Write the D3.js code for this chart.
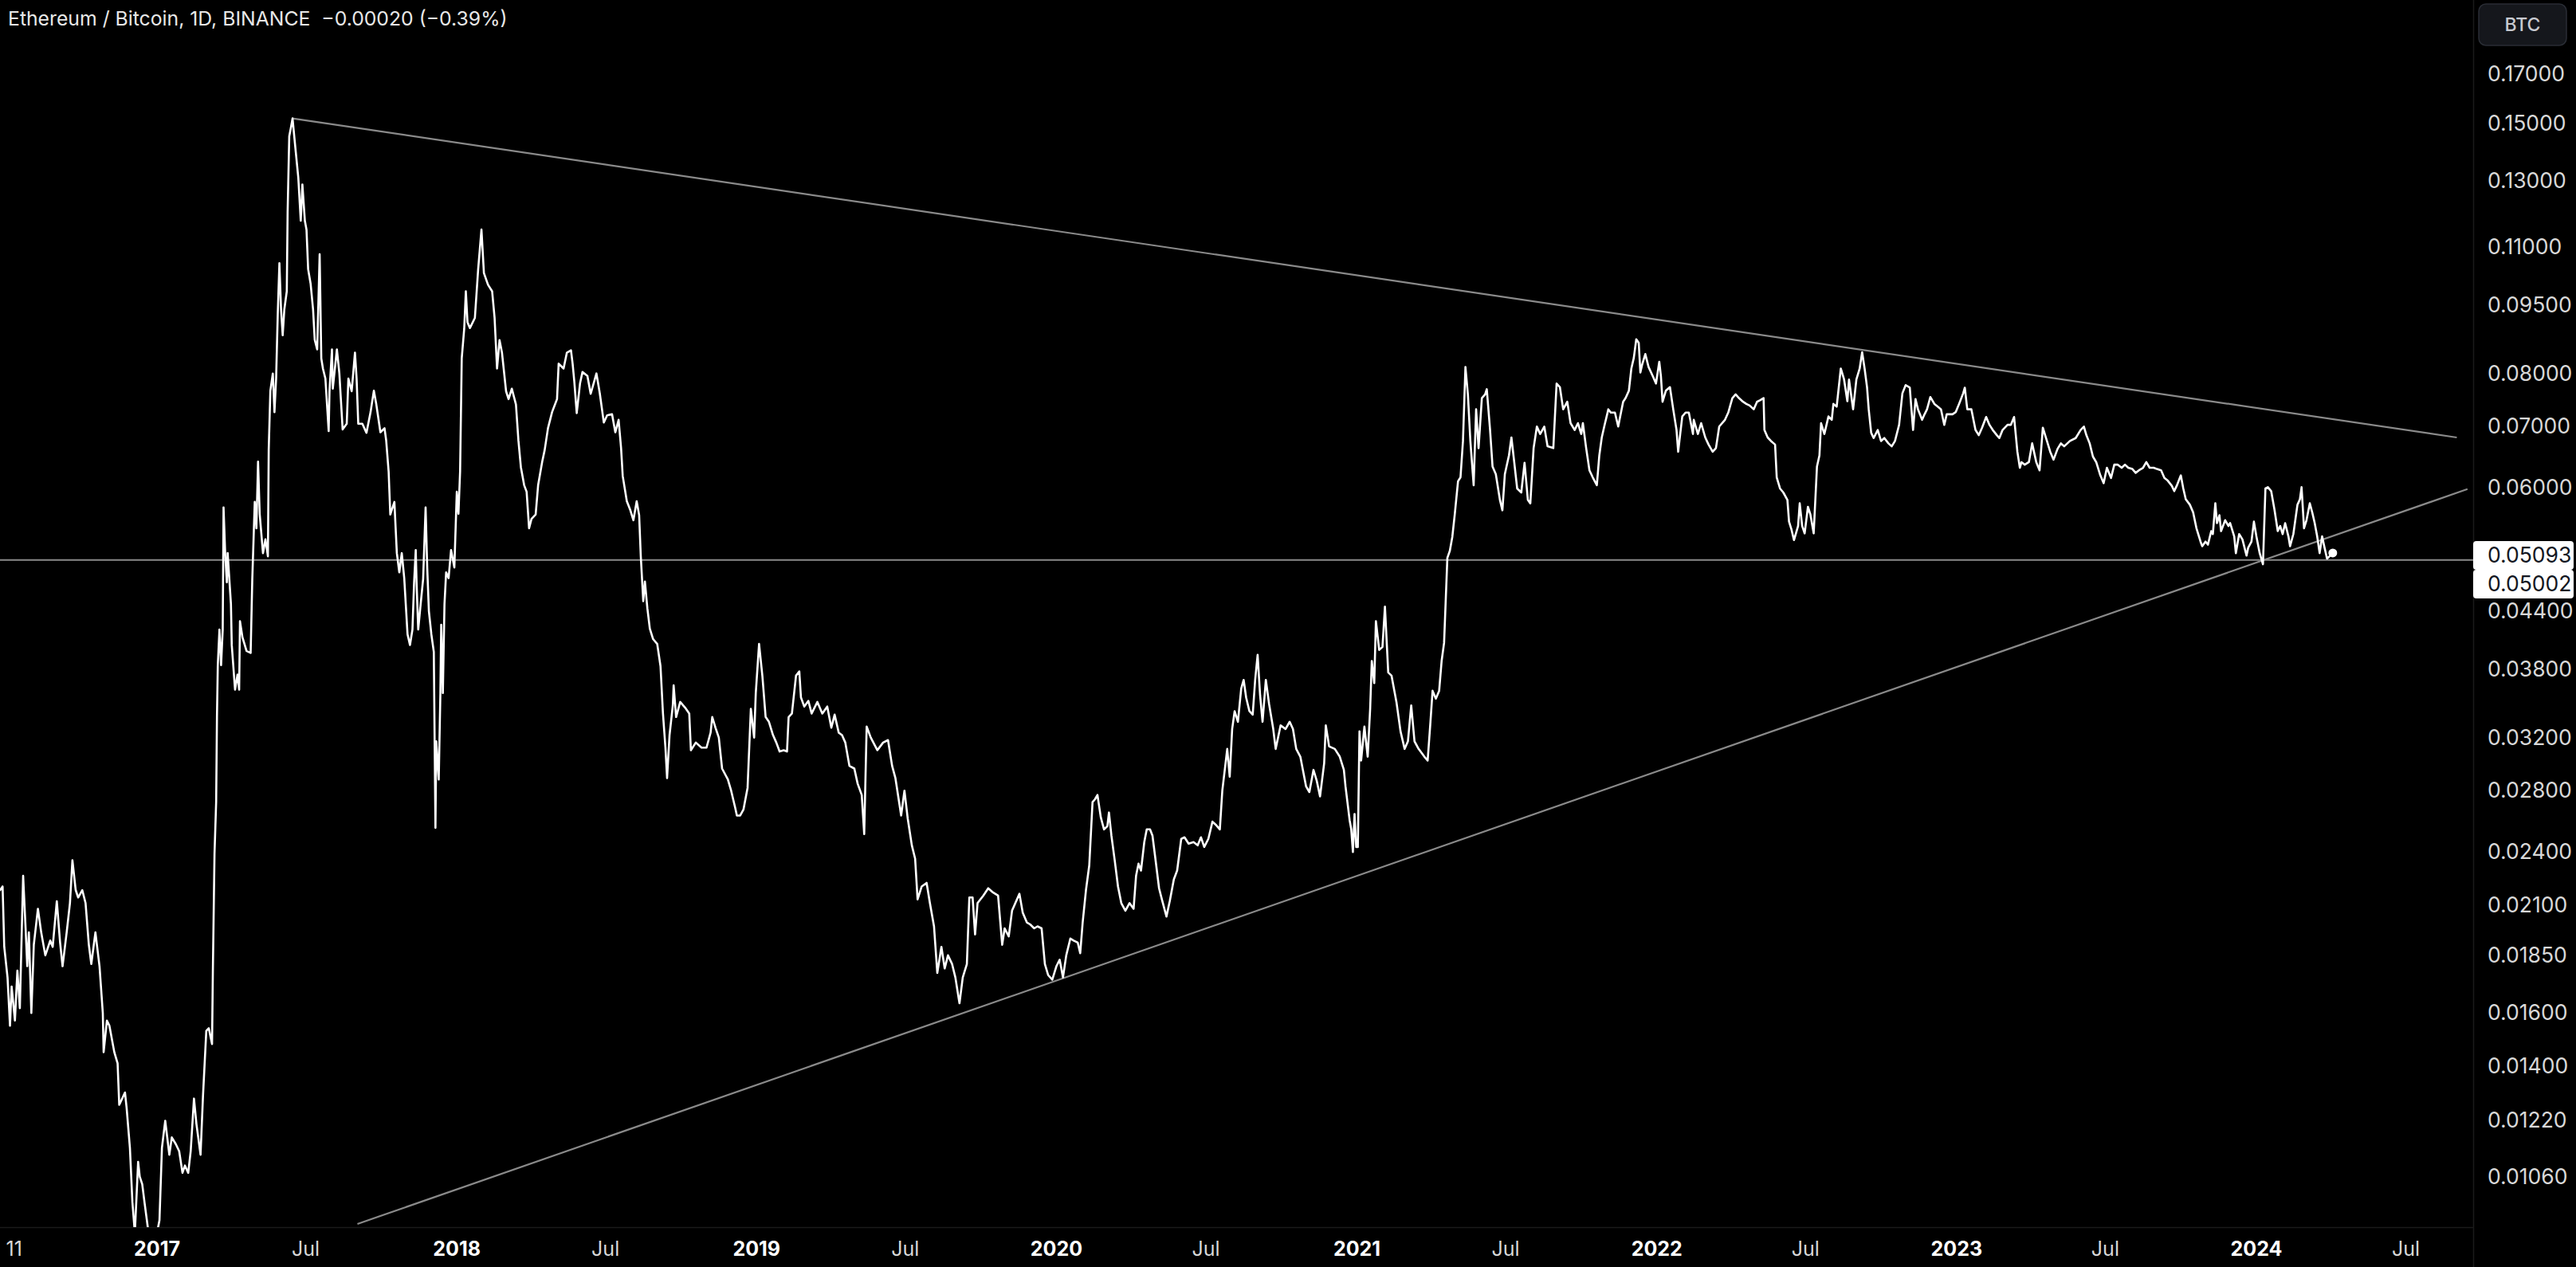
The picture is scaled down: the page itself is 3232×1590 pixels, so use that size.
<!DOCTYPE html>
<html><head><meta charset="utf-8">
<script src="https://cdn.jsdelivr.net/npm/d3@7"></script>
<style>html,body{margin:0;padding:0;background:#000;overflow:hidden}</style>
</head><body><svg id="c" width="3232" height="1590"></svg>
<script>
const title = "Ethereum / Bitcoin, 1D, BINANCE  \u22120.00020 (\u22120.39%)";
const currencyLabel = "BTC";
const series2016 = [["2016-06-24",0.0218],["2016-06-27",0.0220],["2016-06-29",0.0189],["2016-07-03",0.0175],["2016-07-06",0.0155],["2016-07-08",0.0171],["2016-07-12",0.0157],["2016-07-15",0.0178],["2016-07-18",0.0162],["2016-07-22",0.0226],["2016-07-25",0.0198],["2016-07-27",0.0180],["2016-07-29",0.0196],["2016-08-01",0.0160],["2016-08-04",0.0190],["2016-08-09",0.0208],["2016-08-13",0.0196],["2016-08-18",0.0185],["2016-08-24",0.0192],["2016-08-27",0.0189],["2016-09-01",0.0212],["2016-09-05",0.0191],["2016-09-08",0.0180],["2016-09-13",0.0196],["2016-09-17",0.0211],["2016-09-20",0.0235],["2016-09-24",0.0218],["2016-09-27",0.0214],["2016-10-02",0.0218],["2016-10-06",0.0211],["2016-10-10",0.0190],["2016-10-13",0.0181],["2016-10-18",0.0196],["2016-10-23",0.0180],["2016-10-27",0.0160],["2016-10-28",0.0145],["2016-11-01",0.0157],["2016-11-04",0.0155],["2016-11-10",0.0145],["2016-11-14",0.0141],["2016-11-16",0.0127],["2016-11-23",0.0131],["2016-11-25",0.0126],["2016-11-29",0.0114],["2016-12-02",0.00995],["2016-12-05",0.0092],["2016-12-09",0.0110],["2016-12-11",0.0106],["2016-12-14",0.0104],["2016-12-17",0.0099],["2016-12-21",0.0093],["2016-12-24",0.0089],["2016-12-28",0.0088],["2016-12-31",0.0090]];
const series2017 = [["2017-01-02",0.0093],["2017-01-04",0.0095],["2017-01-07",0.0114],["2017-01-11",0.0122],["2017-01-16",0.0112],["2017-01-19",0.0117],["2017-01-24",0.0115],["2017-01-28",0.0113],["2017-02-01",0.0107],["2017-02-04",0.0109],["2017-02-08",0.0107],["2017-02-11",0.0113],["2017-02-15",0.0129],["2017-02-18",0.0121],["2017-02-23",0.0112],["2017-02-26",0.0130],["2017-03-02",0.0153],["2017-03-05",0.0154],["2017-03-09",0.0148],["2017-03-10",0.0178],["2017-03-12",0.0239],["2017-03-14",0.0272],["2017-03-15",0.0338],["2017-03-16",0.0384],["2017-03-18",0.0420],["2017-03-20",0.0384],["2017-03-22",0.0420],["2017-03-23",0.0571],["2017-03-25",0.0509],["2017-03-27",0.0473],["2017-03-28",0.0509],["2017-04-01",0.0448],["2017-04-02",0.0404],["2017-04-06",0.0361],["2017-04-09",0.0375],["2017-04-11",0.0361],["2017-04-12",0.0429],["2017-04-15",0.0412],["2017-04-20",0.0398],["2017-04-25",0.0396],["2017-04-27",0.0477],["2017-04-30",0.0579],["2017-05-02",0.0542],["2017-05-04",0.0641],["2017-05-06",0.0562],["2017-05-10",0.0509],["2017-05-13",0.0527],["2017-05-16",0.0505],["2017-05-17",0.0660],["2017-05-19",0.0766],["2017-05-22",0.0800],["2017-05-24",0.0726],["2017-05-26",0.0790],["2017-05-28",0.0929],["2017-05-30",0.1056],["2017-06-01",0.0940],["2017-06-03",0.0881],["2017-06-05",0.0940],["2017-06-08",0.0984],["2017-06-09",0.1200],["2017-06-11",0.1453],["2017-06-13",0.1485],["2017-06-15",0.1520],["2017-06-19",0.1395],["2017-06-22",0.1310],["2017-06-25",0.1175],["2017-06-27",0.1287],["2017-06-30",0.1175],["2017-07-02",0.1149],["2017-07-04",0.1040],["2017-07-07",0.1003],["2017-07-10",0.0940],["2017-07-12",0.0871],["2017-07-15",0.0850],["2017-07-18",0.1080],["2017-07-20",0.0831],["2017-07-22",0.0810],["2017-07-25",0.0790],["2017-07-29",0.0692],["2017-07-30",0.0765],["2017-08-02",0.0850],["2017-08-03",0.0770],["2017-08-08",0.0850],["2017-08-11",0.0800],["2017-08-15",0.0695],["2017-08-20",0.0705],["2017-08-22",0.0790],["2017-08-26",0.0765],["2017-08-30",0.0843],["2017-09-01",0.0790],["2017-09-03",0.0705],["2017-09-08",0.0705],["2017-09-13",0.0689],["2017-09-18",0.0726],["2017-09-22",0.0766],["2017-09-25",0.0740],["2017-09-30",0.0690],["2017-10-05",0.0697],["2017-10-07",0.0676],["2017-10-10",0.0625],["2017-10-12",0.0561],["2017-10-17",0.0579],["2017-10-20",0.0509],["2017-10-23",0.0485],["2017-10-26",0.0509],["2017-10-29",0.0478],["2017-11-02",0.0415],["2017-11-05",0.0404],["2017-11-08",0.0420],["2017-11-10",0.0473],["2017-11-12",0.0513],["2017-11-13",0.0473],["2017-11-15",0.0420],["2017-11-18",0.0448],["2017-11-21",0.0477],["2017-11-24",0.0571],["2017-11-26",0.0490],["2017-11-28",0.0440],["2017-12-01",0.0415],["2017-12-04",0.0397],["2017-12-06",0.0255],["2017-12-07",0.0317],["2017-12-10",0.0288],["2017-12-12",0.0358],["2017-12-13",0.0425],["2017-12-15",0.0358],["2017-12-17",0.0448],["2017-12-19",0.0485],["2017-12-22",0.0478],["2017-12-25",0.0513],["2017-12-29",0.0491]];
const series2018 = [["2018-01-01",0.0594],["2018-01-03",0.0562],["2018-01-05",0.0625],["2018-01-07",0.0831],["2018-01-10",0.0895],["2018-01-12",0.0984],["2018-01-14",0.0910],["2018-01-17",0.0897],["2018-01-23",0.0920],["2018-01-27",0.1040],["2018-01-31",0.1149],["2018-02-03",0.1030],["2018-02-08",0.1000],["2018-02-13",0.0984],["2018-02-16",0.0920],["2018-02-19",0.0810],["2018-02-22",0.0870],["2018-02-25",0.0843],["2018-03-02",0.0765],["2018-03-05",0.0750],["2018-03-09",0.0770],["2018-03-14",0.0740],["2018-03-17",0.0676],["2018-03-20",0.0632],["2018-03-24",0.0604],["2018-03-27",0.0594],["2018-03-30",0.0542],["2018-04-02",0.0555],["2018-04-07",0.0561],["2018-04-10",0.0604],["2018-04-15",0.0641],["2018-04-18",0.0660],["2018-04-22",0.0697],["2018-04-27",0.0726],["2018-05-03",0.0750],["2018-05-05",0.0820],["2018-05-11",0.0810],["2018-05-15",0.0843],["2018-05-20",0.0848],["2018-05-22",0.0820],["2018-05-24",0.0785],["2018-05-27",0.0724],["2018-05-31",0.0780],["2018-06-03",0.0803],["2018-06-09",0.0795],["2018-06-13",0.0760],["2018-06-20",0.0800],["2018-06-24",0.0762],["2018-06-29",0.0707],["2018-07-03",0.0720],["2018-07-09",0.0722],["2018-07-13",0.0690],["2018-07-17",0.0712],["2018-07-20",0.0663],["2018-07-22",0.0618],["2018-07-27",0.0580],["2018-07-31",0.0568],["2018-08-04",0.0553],["2018-08-08",0.0580],["2018-08-11",0.0560],["2018-08-13",0.0505],["2018-08-16",0.0451],["2018-08-18",0.0474],["2018-08-21",0.0443],["2018-08-24",0.0421],["2018-08-28",0.0410],["2018-09-02",0.0405],["2018-09-06",0.0383],["2018-09-09",0.0340],["2018-09-12",0.0312],["2018-09-14",0.0289],["2018-09-17",0.0322],["2018-09-21",0.0347],["2018-09-22",0.0365],["2018-09-25",0.0337],["2018-09-30",0.0350],["2018-10-06",0.0345],["2018-10-11",0.0340],["2018-10-13",0.0310],["2018-10-19",0.0316],["2018-10-26",0.0312],["2018-11-01",0.0312],["2018-11-06",0.0324],["2018-11-08",0.0337],["2018-11-12",0.0328],["2018-11-16",0.0320],["2018-11-20",0.0296],["2018-11-27",0.0288],["2018-12-01",0.0280],["2018-12-06",0.0268],["2018-12-08",0.0263],["2018-12-12",0.0263],["2018-12-16",0.0267],["2018-12-21",0.0282],["2018-12-25",0.0344],["2018-12-29",0.0320],["2018-12-31",0.0358]];
const series2019 = [["2019-01-04",0.0405],["2019-01-08",0.0374],["2019-01-12",0.0337],["2019-01-16",0.0333],["2019-01-21",0.0322],["2019-01-25",0.0316],["2019-01-29",0.0309],["2019-02-03",0.0310],["2019-02-07",0.0309],["2019-02-09",0.0337],["2019-02-13",0.0340],["2019-02-18",0.0374],["2019-02-22",0.0378],["2019-02-24",0.0354],["2019-02-28",0.0346],["2019-03-05",0.0351],["2019-03-09",0.0340],["2019-03-16",0.0350],["2019-03-22",0.0340],["2019-03-28",0.0346],["2019-04-02",0.0328],["2019-04-06",0.0339],["2019-04-11",0.0324],["2019-04-15",0.0322],["2019-04-19",0.0316],["2019-04-24",0.0298],["2019-04-30",0.0296],["2019-05-04",0.0285],["2019-05-09",0.0277],["2019-05-12",0.0251],["2019-05-15",0.0329],["2019-05-20",0.0320],["2019-05-28",0.0310],["2019-06-04",0.0316],["2019-06-10",0.0318],["2019-06-15",0.0298],["2019-06-19",0.0289],["2019-06-26",0.0263],["2019-06-30",0.0280],["2019-07-04",0.0261],["2019-07-09",0.0244],["2019-07-13",0.0236],["2019-07-16",0.0213],["2019-07-21",0.0220],["2019-07-27",0.0222],["2019-07-31",0.0211],["2019-08-05",0.0199],["2019-08-09",0.0177],["2019-08-14",0.0189],["2019-08-18",0.0179],["2019-08-22",0.0185],["2019-08-27",0.0181],["2019-08-31",0.0175],["2019-09-05",0.0164],["2019-09-09",0.0175],["2019-09-14",0.0181],["2019-09-17",0.0214],["2019-09-21",0.0214],["2019-09-24",0.0195],["2019-09-27",0.0211],["2019-10-04",0.0215],["2019-10-10",0.0219],["2019-10-15",0.0217],["2019-10-22",0.0215],["2019-10-27",0.0190],["2019-10-30",0.0198],["2019-11-04",0.0194],["2019-11-08",0.0207],["2019-11-13",0.0212],["2019-11-17",0.0216],["2019-11-21",0.0206],["2019-11-26",0.0201],["2019-11-30",0.0200],["2019-12-05",0.0198],["2019-12-09",0.0199],["2019-12-14",0.0198],["2019-12-18",0.0181],["2019-12-22",0.0176],["2019-12-27",0.0174]];
const series2020 = [["2020-01-01",0.0180],["2020-01-05",0.0183],["2020-01-09",0.0175],["2020-01-13",0.0185],["2020-01-18",0.0193],["2020-01-22",0.0192],["2020-01-27",0.0191],["2020-01-30",0.0186],["2020-02-02",0.0201],["2020-02-06",0.0218],["2020-02-10",0.0232],["2020-02-14",0.0272],["2020-02-17",0.0274],["2020-02-20",0.0277],["2020-02-24",0.0262],["2020-02-28",0.0254],["2020-03-03",0.0256],["2020-03-05",0.0265],["2020-03-08",0.0250],["2020-03-12",0.0235],["2020-03-16",0.0220],["2020-03-20",0.0211],["2020-03-25",0.0207],["2020-03-30",0.0211],["2020-04-04",0.0208],["2020-04-07",0.0226],["2020-04-10",0.0233],["2020-04-13",0.0229],["2020-04-17",0.0246],["2020-04-20",0.0254],["2020-04-24",0.0254],["2020-04-27",0.0250],["2020-04-30",0.0238],["2020-05-05",0.0219],["2020-05-09",0.0212],["2020-05-14",0.0204],["2020-05-18",0.0212],["2020-05-23",0.0224],["2020-05-27",0.0229],["2020-06-01",0.0248],["2020-06-05",0.0249],["2020-06-10",0.0245],["2020-06-16",0.0246],["2020-06-21",0.0244],["2020-06-25",0.0249],["2020-06-29",0.0243],["2020-07-04",0.0248],["2020-07-09",0.0259],["2020-07-13",0.0257],["2020-07-18",0.0254],["2020-07-21",0.0280],["2020-07-24",0.0295],["2020-07-27",0.0311],["2020-07-30",0.0290],["2020-08-02",0.0327],["2020-08-05",0.0342],["2020-08-09",0.0333],["2020-08-13",0.0362],["2020-08-16",0.0370],["2020-08-19",0.0354],["2020-08-23",0.0342],["2020-08-27",0.0339],["2020-08-30",0.0370],["2020-09-02",0.0394],["2020-09-05",0.0356],["2020-09-08",0.0333],["2020-09-12",0.0370],["2020-09-16",0.0348],["2020-09-21",0.0327],["2020-09-24",0.0311],["2020-09-30",0.0330],["2020-10-06",0.0327],["2020-10-11",0.0333],["2020-10-15",0.0327],["2020-10-19",0.0311],["2020-10-24",0.0305],["2020-10-31",0.0283],["2020-11-04",0.0279],["2020-11-09",0.0295],["2020-11-13",0.0287],["2020-11-17",0.0276],["2020-11-22",0.0300],["2020-11-24",0.0330],["2020-11-28",0.0313],["2020-12-05",0.0311],["2020-12-11",0.0305],["2020-12-16",0.0295],["2020-12-18",0.0283],["2020-12-23",0.0260],["2020-12-25",0.0254],["2020-12-27",0.0240],["2020-12-29",0.0264],["2020-12-31",0.0243]];
const series2021 = [["2021-01-02",0.0243],["2021-01-04",0.0325],["2021-01-06",0.0302],["2021-01-10",0.0329],["2021-01-14",0.0305],["2021-01-17",0.0344],["2021-01-19",0.0388],["2021-01-22",0.0367],["2021-01-24",0.0429],["2021-01-28",0.0399],["2021-02-01",0.0402],["2021-02-04",0.0445],["2021-02-08",0.0377],["2021-02-12",0.0374],["2021-02-18",0.0350],["2021-02-23",0.0325],["2021-02-28",0.0311],["2021-03-04",0.0317],["2021-03-08",0.0347],["2021-03-12",0.0317],["2021-03-17",0.0311],["2021-03-24",0.0305],["2021-03-28",0.0302],["2021-03-31",0.0329],["2021-04-03",0.0360],["2021-04-07",0.0353],["2021-04-11",0.0360],["2021-04-14",0.0388],["2021-04-17",0.0406],["2021-04-21",0.0503],["2021-04-24",0.0512],["2021-04-27",0.0530],["2021-04-30",0.0561],["2021-05-04",0.0610],["2021-05-07",0.0616],["2021-05-10",0.0675],["2021-05-13",0.0813],["2021-05-16",0.0759],["2021-05-19",0.0675],["2021-05-23",0.0604],["2021-05-26",0.0731],["2021-05-29",0.0663],["2021-06-02",0.0752],["2021-06-06",0.0759],["2021-06-08",0.0769],["2021-06-12",0.0694],["2021-06-15",0.0633],["2021-06-19",0.0621],["2021-06-24",0.0582],["2021-06-27",0.0567],["2021-06-30",0.0621],["2021-07-05",0.0651],["2021-07-08",0.0681],["2021-07-11",0.0645],["2021-07-15",0.0599],["2021-07-20",0.0593],["2021-07-24",0.0639],["2021-07-28",0.0582],["2021-07-31",0.0577],["2021-08-04",0.0663],["2021-08-08",0.0700],["2021-08-12",0.0687],["2021-08-17",0.0700],["2021-08-21",0.0666],["2021-08-28",0.0663],["2021-09-01",0.0780],["2021-09-05",0.0773],["2021-09-09",0.0731],["2021-09-14",0.0745],["2021-09-18",0.0706],["2021-09-23",0.0694],["2021-09-27",0.0706],["2021-10-01",0.0687],["2021-10-03",0.0706],["2021-10-07",0.0663],["2021-10-11",0.0627],["2021-10-15",0.0616],["2021-10-20",0.0604],["2021-10-23",0.0651],["2021-10-26",0.0681],["2021-10-29",0.0700],["2021-11-03",0.0731],["2021-11-06",0.0725],["2021-11-11",0.0725],["2021-11-15",0.0700],["2021-11-21",0.0745],["2021-11-24",0.0752],["2021-11-28",0.0766],["2021-12-01",0.0810],["2021-12-04",0.0832],["2021-12-07",0.0872],["2021-12-10",0.0864],["2021-12-12",0.0802],["2021-12-14",0.0817],["2021-12-18",0.0840],["2021-12-22",0.0813],["2021-12-27",0.0795],["2021-12-31",0.0780]];
const series2022 = [["2022-01-04",0.0824],["2022-01-06",0.0795],["2022-01-08",0.0745],["2022-01-12",0.0766],["2022-01-17",0.0773],["2022-01-21",0.0731],["2022-01-25",0.0694],["2022-01-27",0.0657],["2022-02-01",0.0718],["2022-02-05",0.0725],["2022-02-09",0.0725],["2022-02-14",0.0687],["2022-02-15",0.0712],["2022-02-20",0.0687],["2022-02-24",0.0706],["2022-03-01",0.0681],["2022-03-05",0.0669],["2022-03-10",0.0657],["2022-03-14",0.0663],["2022-03-18",0.0700],["2022-03-25",0.0712],["2022-03-29",0.0725],["2022-04-03",0.0752],["2022-04-07",0.0759],["2022-04-11",0.0752],["2022-04-16",0.0745],["2022-04-20",0.0741],["2022-04-24",0.0738],["2022-04-29",0.0731],["2022-05-03",0.0745],["2022-05-07",0.0748],["2022-05-11",0.0752],["2022-05-12",0.0694],["2022-05-16",0.0681],["2022-05-20",0.0675],["2022-05-25",0.0669],["2022-05-27",0.0616],["2022-05-31",0.0599],["2022-06-04",0.0593],["2022-06-09",0.0582],["2022-06-11",0.0551],["2022-06-14",0.0540],["2022-06-17",0.0526],["2022-06-22",0.0545],["2022-06-24",0.0577],["2022-06-27",0.0545],["2022-06-30",0.0535],["2022-07-04",0.0572],["2022-07-07",0.0561],["2022-07-11",0.0535],["2022-07-15",0.0633],["2022-07-18",0.0651],["2022-07-20",0.0706],["2022-07-24",0.0687],["2022-07-29",0.0718],["2022-08-02",0.0712],["2022-08-04",0.0741],["2022-08-08",0.0736],["2022-08-13",0.0810],["2022-08-17",0.0788],["2022-08-21",0.0746],["2022-08-23",0.0788],["2022-08-28",0.0731],["2022-09-01",0.0788],["2022-09-05",0.0810],["2022-09-08",0.0844],["2022-09-11",0.0810],["2022-09-14",0.0772],["2022-09-16",0.0731],["2022-09-19",0.0689],["2022-09-22",0.0680],["2022-09-27",0.0694],["2022-10-01",0.0675],["2022-10-05",0.0680],["2022-10-10",0.0671],["2022-10-14",0.0666],["2022-10-18",0.0675],["2022-10-23",0.0703],["2022-10-27",0.0761],["2022-10-31",0.0777],["2022-11-05",0.0772],["2022-11-09",0.0694],["2022-11-12",0.0750],["2022-11-15",0.0731],["2022-11-20",0.0712],["2022-11-23",0.0722],["2022-11-26",0.0731],["2022-11-30",0.0754],["2022-12-05",0.0741],["2022-12-09",0.0736],["2022-12-13",0.0731],["2022-12-17",0.0703],["2022-12-20",0.0722],["2022-12-27",0.0722],["2022-12-31",0.0726]];
const series2023 = [["2023-01-04",0.0741],["2023-01-09",0.0761],["2023-01-11",0.0772],["2023-01-14",0.0731],["2023-01-19",0.0731],["2023-01-24",0.0694],["2023-01-28",0.0685],["2023-02-01",0.0698],["2023-02-06",0.0717],["2023-02-10",0.0703],["2023-02-14",0.0694],["2023-02-19",0.0685],["2023-02-22",0.0680],["2023-02-26",0.0694],["2023-03-04",0.0703],["2023-03-08",0.0703],["2023-03-12",0.0717],["2023-03-16",0.0657],["2023-03-19",0.0631],["2023-03-21",0.0640],["2023-03-25",0.0636],["2023-03-30",0.0640],["2023-04-03",0.0671],["2023-04-08",0.0640],["2023-04-12",0.0627],["2023-04-16",0.0698],["2023-04-21",0.0675],["2023-04-25",0.0657],["2023-04-29",0.0644],["2023-05-04",0.0662],["2023-05-08",0.0671],["2023-05-12",0.0666],["2023-05-19",0.0675],["2023-05-26",0.0680],["2023-06-01",0.0694],["2023-06-05",0.0700],["2023-06-08",0.0685],["2023-06-12",0.0671],["2023-06-16",0.0649],["2023-06-20",0.0640],["2023-06-25",0.0619],["2023-06-29",0.0607],["2023-07-03",0.0631],["2023-07-08",0.0615],["2023-07-12",0.0636],["2023-07-16",0.0636],["2023-07-21",0.0631],["2023-07-25",0.0636],["2023-07-29",0.0631],["2023-08-03",0.0629],["2023-08-07",0.0623],["2023-08-11",0.0627],["2023-08-16",0.0631],["2023-08-20",0.0640],["2023-08-24",0.0631],["2023-08-29",0.0631],["2023-09-02",0.0629],["2023-09-07",0.0627],["2023-09-11",0.0615],["2023-09-15",0.0611],["2023-09-20",0.0603],["2023-09-23",0.0595],["2023-09-26",0.0603],["2023-10-01",0.0619],["2023-10-04",0.0599],["2023-10-07",0.0583],["2023-10-12",0.0575],["2023-10-16",0.0564],["2023-10-20",0.0542],["2023-10-25",0.0524],["2023-10-27",0.0518],["2023-10-31",0.0524],["2023-11-03",0.0520],["2023-11-07",0.0538],["2023-11-09",0.0534],["2023-11-12",0.0577],["2023-11-14",0.0549],["2023-11-17",0.0560],["2023-11-19",0.0538],["2023-11-24",0.0553],["2023-11-28",0.0545],["2023-11-30",0.0549],["2023-12-05",0.0531],["2023-12-07",0.0509],["2023-12-11",0.0534],["2023-12-15",0.0527],["2023-12-20",0.0506],["2023-12-22",0.0516],["2023-12-26",0.0524],["2023-12-29",0.0551]];
const series2024 = [["2024-01-01",0.0531],["2024-01-05",0.0509],["2024-01-09",0.0495],["2024-01-12",0.0599],["2024-01-15",0.0601],["2024-01-19",0.0595],["2024-01-23",0.0568],["2024-01-27",0.0538],["2024-01-30",0.0545],["2024-02-02",0.0534],["2024-02-05",0.0549],["2024-02-09",0.0531],["2024-02-11",0.0518],["2024-02-15",0.0534],["2024-02-20",0.0575],["2024-02-23",0.0583],["2024-02-25",0.0601],["2024-02-28",0.0542],["2024-03-02",0.0553],["2024-03-06",0.0577],["2024-03-09",0.0564],["2024-03-12",0.0549],["2024-03-15",0.0531],["2024-03-18",0.0509],["2024-03-21",0.0531],["2024-03-24",0.0516],["2024-03-27",0.0502],["2024-03-31",0.0506],["2024-04-03",0.05093]];
const priceTicks = [0.17,0.15,0.13,0.11,0.095,0.08,0.07,0.06,0.044,0.038,0.032,0.028,0.024,0.021,0.0185,0.016,0.014,0.0122,0.0106];
const timeTicks = [["2016-07-11","11",false],["2017-01-01","2017",true],["2017-07-01","Jul",false],["2018-01-01","2018",true],["2018-07-01","Jul",false],["2019-01-01","2019",true],["2019-07-01","Jul",false],["2020-01-01","2020",true],["2020-07-01","Jul",false],["2021-01-01","2021",true],["2021-07-01","Jul",false],["2022-01-01","2022",true],["2022-07-01","Jul",false],["2023-01-01","2023",true],["2023-07-01","Jul",false],["2024-01-01","2024",true],["2024-07-01","Jul",false]];
const upperTrend = [["2017-06-15",0.152],["2024-09-01",0.0681]];
const lowerTrend = [["2017-09-02",0.00941],["2024-09-14",0.0598]];
const levelLine = 0.05002;
const lastPrice = 0.05093;

// ---------- layout ----------
const W = 3232, H = 1590, plotR = 3103, plotB = 1540;
const FONT = "Inter, Roboto, 'Noto Sans', sans-serif";
const svg = d3.select("#c");
svg.append("rect").attr("width",W).attr("height",H).attr("fill","#000");

const parse = s => new Date(s + "T00:00:00Z");
const x = d3.scaleUtc().domain([parse("2017-01-01"), parse("2024-01-01")]).range([197, 2831]);
const y = d3.scaleLog().domain([0.17, 0.0106]).range([92.8, 1476.6]);

const data = [].concat(series2016,series2017,series2018,series2019,series2020,series2021,series2022,series2023,series2024)
  .map(([d,v]) => ({date: parse(d), value: v}));

function fitSize(text, weight, target){
  const t = svg.append("text").attr("font-family",FONT).attr("font-weight",weight).attr("font-size",100).text(text);
  const w = t.node().getComputedTextLength(); t.remove();
  return 100*target/w;
}

// dividers
svg.append("line").attr("x1",plotR+0.5).attr("x2",plotR+0.5).attr("y1",0).attr("y2",H).attr("stroke","#1a1a1a").attr("stroke-width",1.5);
svg.append("line").attr("x1",0).attr("x2",plotR).attr("y1",plotB+0.5).attr("y2",plotB+0.5).attr("stroke","#1a1a1a").attr("stroke-width",1.5);

svg.append("clipPath").attr("id","plot").append("rect").attr("x",0).attr("y",0).attr("width",plotR).attr("height",plotB);
const g = svg.append("g").attr("clip-path","url(#plot)");

const seg = d3.line().x(d=>x(parse(d[0]))).y(d=>y(d[1]));
// horizontal level line
g.append("line").attr("x1",0).attr("x2",plotR).attr("y1",y(levelLine)).attr("y2",y(levelLine))
  .attr("stroke","#8a8a8a").attr("stroke-width",2);
g.append("path").attr("d",seg(upperTrend)).attr("stroke","#8a8a8a").attr("stroke-width",2.2).attr("fill","none");
g.append("path").attr("d",seg(lowerTrend)).attr("stroke","#8a8a8a").attr("stroke-width",2.2).attr("fill","none");

const line = d3.line().x(d=>x(d.date)).y(d=>y(d.value));
g.append("path").datum(data).attr("d",line).attr("fill","none").attr("stroke","#ffffff")
  .attr("stroke-width",2.6).attr("stroke-linejoin","round").attr("stroke-linecap","round");
const last = data[data.length-1];
g.append("circle").attr("cx",x(last.date)).attr("cy",y(last.value)).attr("r",5.5).attr("fill","#fff");

// title
const titleSize = fitSize(title, 400, 620);
svg.append("text").attr("x",10).attr("y",32).attr("font-family",FONT).attr("font-size",titleSize)
  .attr("fill","#e8e8e8").style("white-space","pre").text(title);

// right axis
const axisSize = fitSize("0.17000", 400, 97);
const ax = svg.append("g").attr("transform",`translate(${plotR},0)`)
  .call(d3.axisRight(y).tickValues(priceTicks).tickSize(0).tickPadding(18).tickFormat(d3.format(".5f")));
ax.select(".domain").remove();
ax.selectAll("text").attr("font-family",FONT).attr("font-size",axisSize).attr("fill","#d8d8d8");

// price labels
const p1 = y(lastPrice) + 3, p2 = p1 + 36;
[[p1,lastPrice],[p2,levelLine]].forEach(([cy,v])=>{
  svg.append("rect").attr("x",plotR).attr("y",cy-18).attr("width",126).attr("height",36).attr("rx",4).attr("fill","#ffffff");
  svg.append("text").attr("x",plotR+18).attr("y",cy).attr("dy","0.35em").attr("font-family",FONT)
    .attr("font-size",axisSize).attr("fill","#131722").text(d3.format(".5f")(v));
});

// currency button
svg.append("rect").attr("x",3110).attr("y",5).attr("width",110).attr("height",52).attr("rx",9)
  .attr("fill","#15171c").attr("stroke","#2a2d35").attr("stroke-width",1.5);
svg.append("text").attr("x",3165).attr("y",31).attr("dy","0.35em").attr("text-anchor","middle")
  .attr("font-family",FONT).attr("font-size",fitSize(currencyLabel,500,45)).attr("font-weight",500)
  .attr("fill","#c8cad0").text(currencyLabel);

// time axis
const timeSize = fitSize("2017", 700, 58);
svg.append("g").selectAll("text").data(timeTicks).join("text")
  .attr("x",d=>x(parse(d[0]))).attr("y",1567).attr("dy","0.35em").attr("text-anchor","middle")
  .attr("font-family",FONT).attr("font-size",timeSize)
  .attr("font-weight",d=>d[2]?700:400).attr("fill",d=>d[2]?"#ffffff":"#d8d8d8").text(d=>d[1]);
</script></body></html>
